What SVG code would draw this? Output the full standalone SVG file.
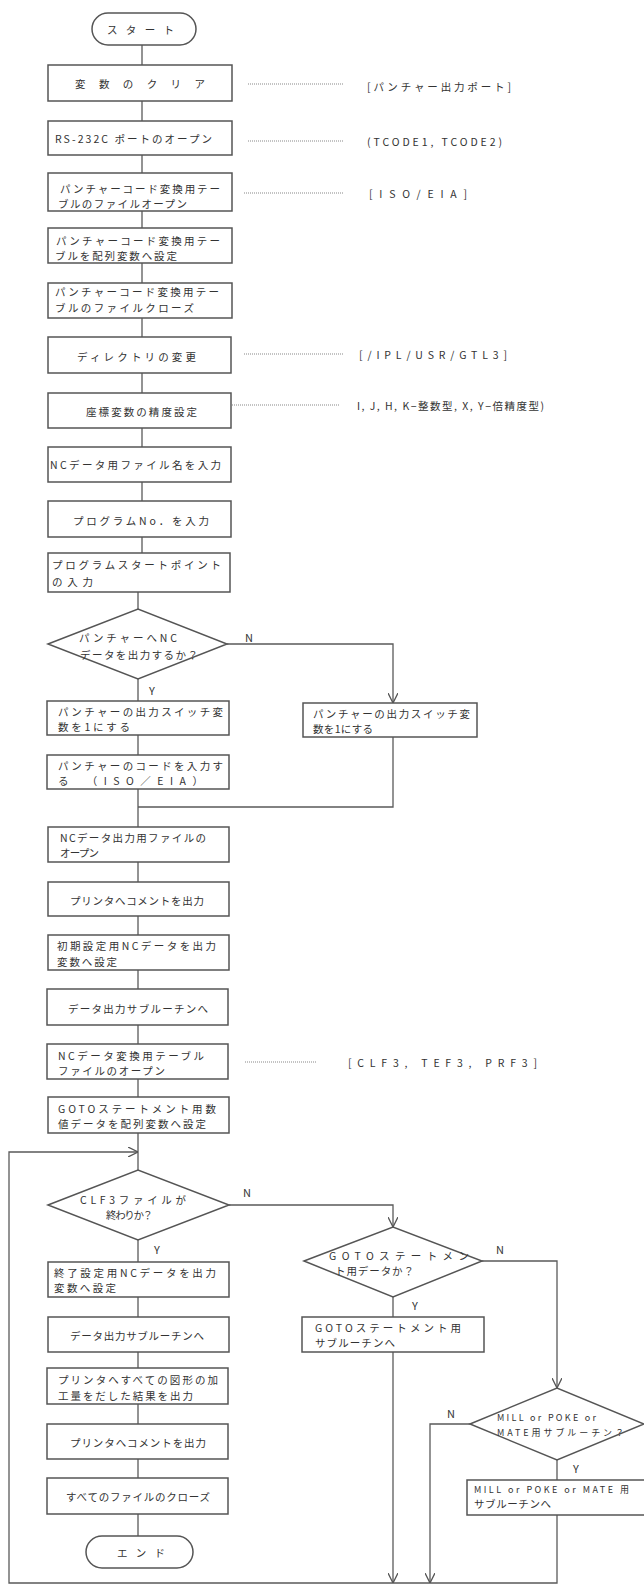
<svg xmlns="http://www.w3.org/2000/svg" width="644" height="1585" viewBox="0 0 644 1585">
<defs>
<style>
.bx{fill:#fff;stroke:#555;stroke-width:1.5}
.ln{fill:none;stroke:#5a5a5a;stroke-width:1.3}
.dt{fill:none;stroke:#888;stroke-width:1.2;stroke-dasharray:1 1}
text{font-family:"Noto Sans CJK JP","Noto Sans",sans-serif;font-size:10.5px;fill:#333;dominant-baseline:central}
.lb{font-size:11px}
.sm{font-size:9px}
</style>
<marker id="ah" viewBox="0 0 10 10" refX="10" refY="5" markerWidth="10" markerHeight="10" markerUnits="userSpaceOnUse" orient="auto">
<path d="M0,0 L10,5 L0,10" fill="none" stroke="#555" stroke-width="1.3"/>
</marker>
</defs>
<rect width="644" height="1585" fill="#fff"/>

<g id="connectors">
<path class="ln" d="M142,45 V65 M142,101 V121 M142,155 V173 M142,211 V228 M142,263 V283 M142,318 V337 M142,373 V393 M142,428 V447 M142,482 V501 M142,537 V553"/>
<path class="ln" d="M138,592 V609 M138,679 V701 M138,735 V755 M138,789 V827"/>
<path class="ln" d="M227,644 H393 V703" marker-end="url(#ah)"/>
<path class="ln" d="M393,737 V807 H138"/>
<path class="ln" d="M138,862 V882 M138,916 V935 M138,970 V989 M138,1025 V1044 M138,1079 V1097 M138,1133 V1170"/>
<path class="ln" d="M557,1515 V1583 H9 V1152 H138" marker-end="url(#ah)"/>
<path class="ln" d="M229,1205 H393 V1227" marker-end="url(#ah)"/>
<path class="ln" d="M138,1240 V1262 M138,1297 V1317 M138,1352 V1368 M138,1404 V1424 M138,1459 V1478 M138,1514 V1536"/>
<path class="ln" d="M482,1261 H557 V1388" marker-end="url(#ah)"/>
<path class="ln" d="M393,1297 V1317"/>
<path class="ln" d="M393,1352 V1583" marker-end="url(#ah)"/>
<path class="ln" d="M470,1424 H430 V1583" marker-end="url(#ah)"/>
<path class="ln" d="M557,1460 V1480"/>
</g>

<g id="annotations">
<path class="dt" d="M248,84 H344 M248,141 H344 M244,193 H344 M244,354 H344 M232,405 H340 M245,1062 H317"/>
<text x="367" y="86" textLength="144" lengthAdjust="spacing">[パンチャー出力ポート]</text>
<text x="367" y="141" textLength="135" lengthAdjust="spacing">(TCODE1, TCODE2)</text>
<text x="369" y="193" textLength="98" lengthAdjust="spacing">[ISO/EIA]</text>
<text x="359" y="354" textLength="148" lengthAdjust="spacing">[/IPL/USR/GTL3]</text>
<text x="357" y="405" textLength="187" lengthAdjust="spacing">I, J, H, K−整数型, X, Y−倍精度型)</text>
<text x="348" y="1062" textLength="189" lengthAdjust="spacing">[CLF3, TEF3, PRF3]</text>
</g>

<g id="start"><rect class="bx" x="92" y="13" width="104" height="32" rx="16"/><text x="107" y="29" textLength="67" lengthAdjust="spacing">スタート</text></g>
<g id="n1"><rect class="bx" x="48" y="65" width="184" height="36"/><text x="75" y="83" textLength="130" lengthAdjust="spacing">変数のクリア</text></g>
<g id="n2"><rect class="bx" x="48" y="121" width="184" height="34"/><text x="55" y="138" textLength="157" lengthAdjust="spacing">RS-232C ポートのオープン</text></g>
<g id="n3"><rect class="bx" x="48" y="173" width="184" height="38"/><text x="60" y="188" textLength="160" lengthAdjust="spacing">パンチャーコード変換用テー</text><text x="58" y="203" textLength="129" lengthAdjust="spacing">ブルのファイルオープン</text></g>
<g id="n4"><rect class="bx" x="48" y="228" width="184" height="35"/><text x="56" y="240" textLength="164" lengthAdjust="spacing">パンチャーコード変換用テー</text><text x="55" y="255" textLength="122" lengthAdjust="spacing">ブルを配列変数へ設定</text></g>
<g id="n5"><rect class="bx" x="48" y="283" width="184" height="35"/><text x="55" y="291" textLength="164" lengthAdjust="spacing">パンチャーコード変換用テー</text><text x="55" y="307" textLength="139" lengthAdjust="spacing">ブルのファイルクローズ</text></g>
<g id="n6"><rect class="bx" x="48" y="337" width="183" height="36"/><text x="77" y="356" textLength="119" lengthAdjust="spacing">ディレクトリの変更</text></g>
<g id="n7"><rect class="bx" x="48" y="393" width="183" height="35"/><text x="86" y="411" textLength="111" lengthAdjust="spacing">座標変数の精度設定</text></g>
<g id="n8"><rect class="bx" x="48" y="447" width="183" height="35"/><text x="50" y="464" textLength="171" lengthAdjust="spacing">NCデータ用ファイル名を入力</text></g>
<g id="n9"><rect class="bx" x="48" y="501" width="183" height="36"/><text x="73" y="520" textLength="136" lengthAdjust="spacing">プログラムNo．を入力</text></g>
<g id="n10"><rect class="bx" x="48" y="553" width="182" height="39"/><text x="52" y="564" textLength="169" lengthAdjust="spacing">プログラムスタートポイント</text><text x="52" y="581" textLength="41" lengthAdjust="spacing">の入力</text></g>
<g id="d1"><polygon class="bx" points="48,644 138,609 227,644 138,679"/><text x="79" y="637" textLength="98" lengthAdjust="spacing">パンチャーへNC</text><text x="80" y="654" textLength="118" lengthAdjust="spacing">データを出力するか？</text><text class="lb" x="245" y="637">N</text><text class="lb" x="149" y="690">Y</text></g>
<g id="n11"><rect class="bx" x="47" y="701" width="182" height="34"/><text x="58" y="711" textLength="165" lengthAdjust="spacing">パンチャーの出力スイッチ変</text><text x="58" y="726" textLength="72" lengthAdjust="spacing">数を1にする</text></g>
<g id="n12"><rect class="bx" x="47" y="755" width="182" height="34"/><text x="58" y="765" textLength="165" lengthAdjust="spacing">パンチャーのコードを入力す</text><text x="58" y="780" textLength="145" lengthAdjust="spacing">る　（ISO／EIA）</text></g>
<g id="n11b"><rect class="bx" x="303" y="703" width="174" height="34"/><text x="313" y="713" textLength="157" lengthAdjust="spacing">パンチャーの出力スイッチ変</text><text x="313" y="728" textLength="60" lengthAdjust="spacing">数を1にする</text></g>
<g id="n13"><rect class="bx" x="48" y="827" width="181" height="35"/><text x="60" y="837" textLength="146" lengthAdjust="spacing">NCデータ出力用ファイルの</text><text x="60" y="852" textLength="39" lengthAdjust="spacing">オープン</text></g>
<g id="n14"><rect class="bx" x="48" y="882" width="181" height="34"/><text x="70" y="900" textLength="134" lengthAdjust="spacing">プリンタへコメントを出力</text></g>
<g id="n15"><rect class="bx" x="48" y="935" width="181" height="35"/><text x="57" y="945" textLength="159" lengthAdjust="spacing">初期設定用NCデータを出力</text><text x="57" y="961" textLength="60" lengthAdjust="spacing">変数へ設定</text></g>
<g id="n16"><rect class="bx" x="47" y="989" width="181" height="36"/><text x="68" y="1008" textLength="140" lengthAdjust="spacing">データ出力サブルーチンへ</text></g>
<g id="n17"><rect class="bx" x="47" y="1044" width="181" height="35"/><text x="58" y="1055" textLength="146" lengthAdjust="spacing">NCデータ変換用テーブル</text><text x="58" y="1070" textLength="107" lengthAdjust="spacing">ファイルのオープン</text></g>
<g id="n18"><rect class="bx" x="48" y="1097" width="181" height="36"/><text x="58" y="1108" textLength="158" lengthAdjust="spacing">GOTOステートメント用数</text><text x="58" y="1123" textLength="148" lengthAdjust="spacing">値データを配列変数へ設定</text></g>
<g id="d2"><polygon class="bx" points="48,1205 138,1170 229,1205 138,1240"/><text x="80" y="1199" textLength="106" lengthAdjust="spacing">CLF3ファイルが</text><text x="106" y="1214" textLength="47" lengthAdjust="spacing">終わりか？</text><text class="lb" x="243" y="1192">N</text><text class="lb" x="154" y="1249">Y</text></g>
<g id="n19"><rect class="bx" x="48" y="1262" width="181" height="35"/><text x="54" y="1272" textLength="162" lengthAdjust="spacing">終了設定用NCデータを出力</text><text x="54" y="1287" textLength="62" lengthAdjust="spacing">変数へ設定</text></g>
<g id="n20"><rect class="bx" x="48" y="1317" width="181" height="35"/><text x="70" y="1335" textLength="134" lengthAdjust="spacing">データ出力サブルーチンへ</text></g>
<g id="n21"><rect class="bx" x="47" y="1368" width="181" height="36"/><text x="58" y="1379" textLength="160" lengthAdjust="spacing">プリンタへすべての図形の加</text><text x="58" y="1395" textLength="135" lengthAdjust="spacing">工量をだした結果を出力</text></g>
<g id="n22"><rect class="bx" x="47" y="1424" width="181" height="35"/><text x="70" y="1442" textLength="136" lengthAdjust="spacing">プリンタへコメントを出力</text></g>
<g id="n23"><rect class="bx" x="47" y="1478" width="181" height="36"/><text x="66" y="1496" textLength="144" lengthAdjust="spacing">すべてのファイルのクローズ</text></g>
<g id="end"><rect class="bx" x="86" y="1536" width="107" height="32" rx="16"/><text x="117" y="1552" textLength="48" lengthAdjust="spacing">エンド</text></g>
<g id="d3"><polygon class="bx" points="304,1261 393,1227 482,1261 393,1297"/><text x="329" y="1255" textLength="140" lengthAdjust="spacing">GOTOステートメン</text><text x="335" y="1270" textLength="79" lengthAdjust="spacing">ト用データか？</text><text class="lb" x="496" y="1249">N</text><text class="lb" x="412" y="1305">Y</text></g>
<g id="n24"><rect class="bx" x="302" y="1317" width="182" height="35"/><text x="315" y="1327" textLength="146" lengthAdjust="spacing">GOTOステートメント用</text><text x="315" y="1342" textLength="80" lengthAdjust="spacing">サブルーチンへ</text></g>
<g id="d4"><polygon class="bx" points="470,1424 557,1388 644,1424 557,1460"/><text class="sm" x="497" y="1417" textLength="99" lengthAdjust="spacing">MILL or POKE or</text><text class="sm" x="497" y="1432" textLength="127" lengthAdjust="spacing">MATE用サブルーチン？</text><text class="lb" x="447" y="1413">N</text><text class="lb" x="573" y="1468">Y</text></g>
<g id="n25"><rect class="bx" x="467" y="1480" width="200" height="35"/><text class="sm" x="474" y="1489" textLength="155" lengthAdjust="spacing">MILL or POKE or MATE 用</text><text x="474" y="1503" textLength="77" lengthAdjust="spacing">サブルーチンへ</text></g>
</svg>
